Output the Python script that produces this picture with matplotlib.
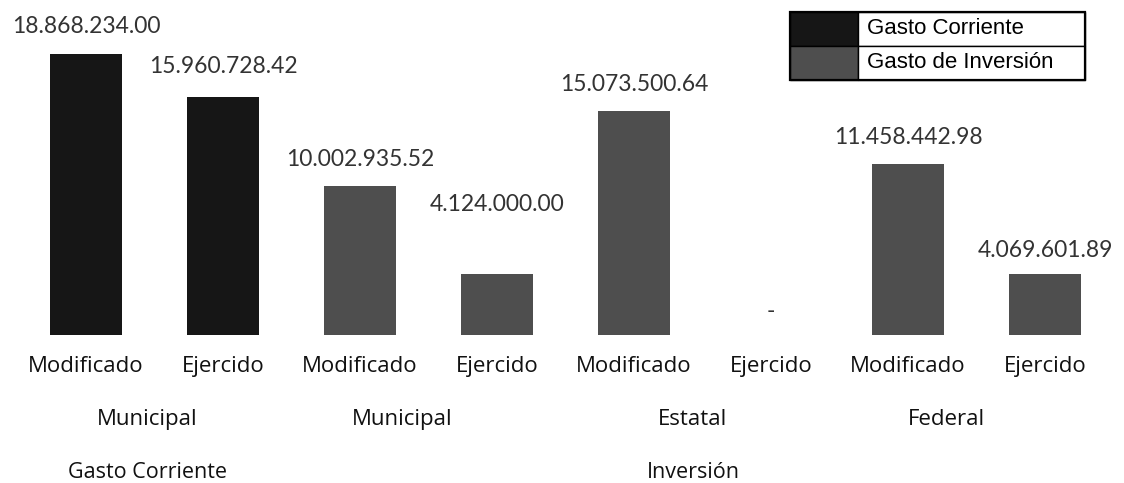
import matplotlib
matplotlib.use("Agg")
import matplotlib.pyplot as plt
from matplotlib.patches import Rectangle

# ---- data ----
tick_labels = ["Modificado", "Ejercido", "Modificado", "Ejercido",
               "Modificado", "Ejercido", "Modificado", "Ejercido"]
values = [18868234.00, 15960728.42, 10002935.52, 4124000.00,
          15073500.64, 0.0, 11458442.98, 4069601.89]
series = ["Gasto Corriente", "Gasto Corriente", "Gasto de Inversión", "Gasto de Inversión",
          "Gasto de Inversión", "Gasto de Inversión", "Gasto de Inversión", "Gasto de Inversión"]
level_labels = ["Municipal", "Municipal", "Estatal", "Federal"]
group_labels = ["Gasto Corriente", "Inversión"]
legend_labels = ["Gasto Corriente", "Gasto de Inversión"]

# ---- style ----
colors = {"Gasto Corriente": "#161616", "Gasto de Inversión": "#4e4e4e"}
W, H = 1124, 483
fig = plt.figure(figsize=(W / 100, H / 100), dpi=100)

def fx(px):
    return px / W

def fy(py):
    return 1 - py / H

base_px = 335
px_per_unit = 281 / 18868234.0
ymax = 22e6
top_px = base_px - ymax * px_per_unit
left_px, right_px = 17.5, 1113.5
ax = fig.add_axes([fx(left_px), fy(base_px), (right_px - left_px) / W, (base_px - top_px) / H])
ax.set_xlim(-0.5, 7.5)
ax.set_ylim(0, ymax)
for s in ax.spines.values():
    s.set_visible(False)
ax.set_yticks([])

xs = list(range(len(values)))
ax.bar(xs, values, width=0.52, color=[colors[s] for s in series], linewidth=0)

ax.set_xticks(xs)
ax.set_xticklabels(tick_labels, fontfamily="Open Sans", fontsize=16, color="#111111")
ax.tick_params(axis="x", length=0, pad=15)

def fmt(v):
    if v == 0:
        return "-"
    return f"{v:,.2f}".replace(",", ".")

label_offsets = [20, 22, 19, 50, 19, 17, 19, 17]
for x, v, off in zip(xs, values, label_offsets):
    ax.annotate(fmt(v), xy=(x, v), xytext=(0, off), textcoords="offset points",
                ha="center", va="center", fontfamily="Lato", fontweight="normal",
                fontsize=16.5, color="#333333")

# second row
level_x = [0.45, 2.31, 4.43, 6.28]
for x, t in zip(level_x, level_labels):
    ax.annotate(t, xy=(x, 0), xytext=(0, -61), textcoords="offset points",
                ha="center", va="center", fontfamily="Open Sans", fontsize=16,
                color="#111111", annotation_clip=False)
group_x = [0.45, 4.43]
for x, t in zip(group_x, group_labels):
    ax.annotate(t, xy=(x, 0), xytext=(0, -99), textcoords="offset points",
                ha="center", va="center", fontfamily="Open Sans", fontsize=15.5,
                color="#111111", annotation_clip=False)

# legend (table-like box)
lx0, lx1, lxs = 790, 1085, 858
ly0, ly1, ly2 = 12, 46, 80

def rect(x0, y0, x1, y1, **kw):
    r = Rectangle((fx(x0), fy(y1)), fx(x1) - fx(x0), fy(y0) - fy(y1),
                  transform=fig.transFigure, **kw)
    fig.add_artist(r)

rect(lx0, ly0, lxs, ly1, facecolor=colors["Gasto Corriente"], edgecolor="black", linewidth=1)
rect(lx0, ly1, lxs, ly2, facecolor=colors["Gasto de Inversión"], edgecolor="black", linewidth=1)
rect(lxs, ly0, lx1, ly1, facecolor="white", edgecolor="black", linewidth=1)
rect(lxs, ly1, lx1, ly2, facecolor="white", edgecolor="black", linewidth=1)
rect(lx0, ly0, lx1, ly2, facecolor="none", edgecolor="black", linewidth=1.6)
for t, yc in zip(legend_labels, [(ly0 + ly1) / 2, (ly1 + ly2) / 2]):
    fig.text(fx(867), fy(yc), t, ha="left", va="center", fontfamily="Liberation Sans",
             fontsize=16, color="black")

fig.savefig("out.png", dpi=100, facecolor="white")
